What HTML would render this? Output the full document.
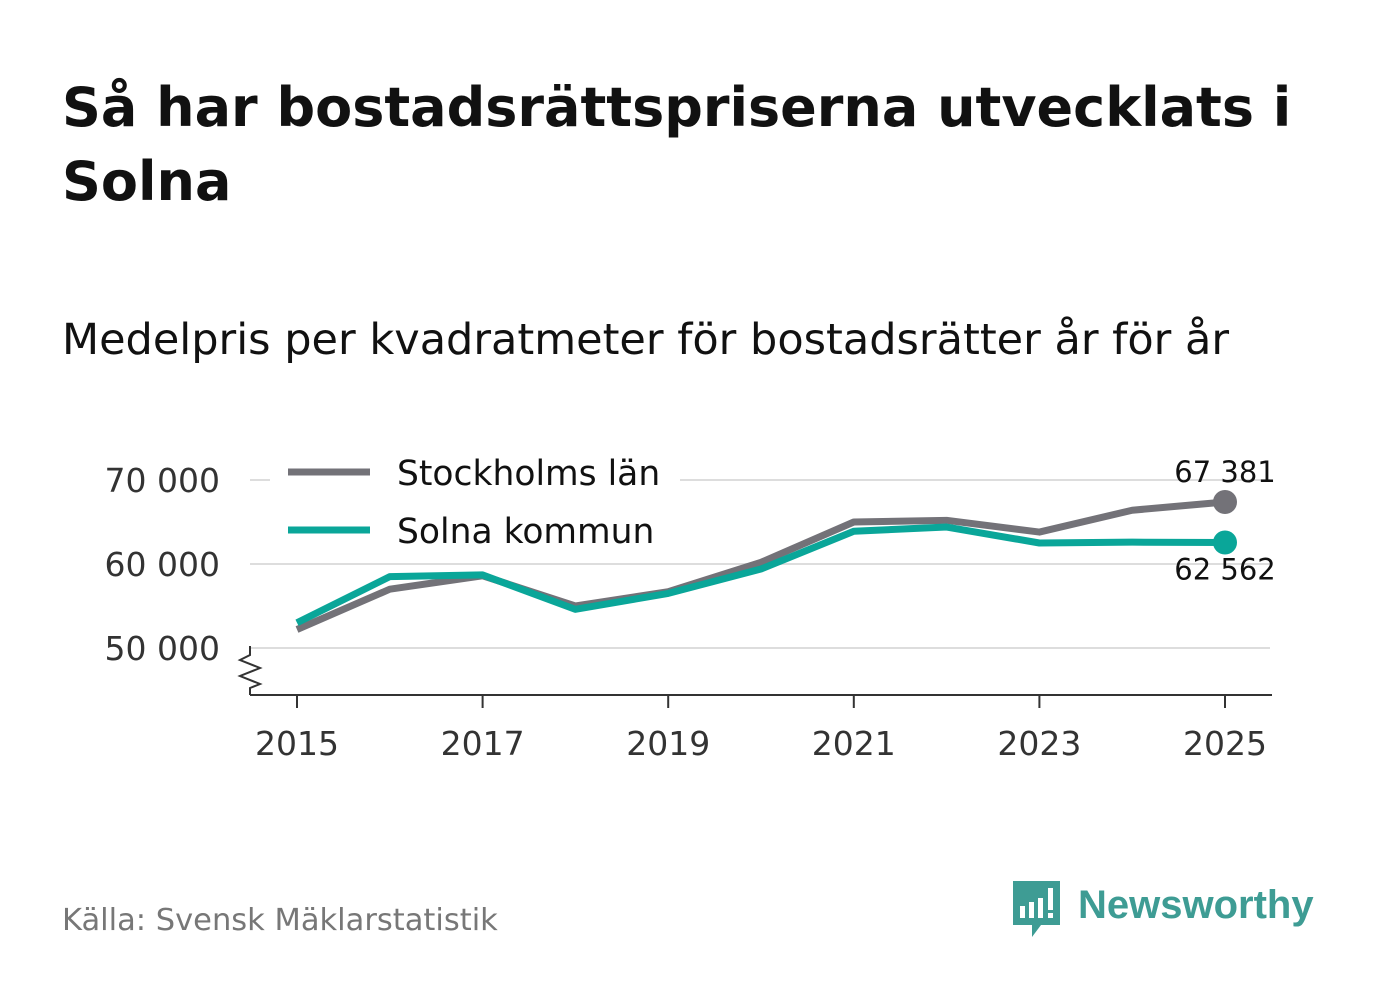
<!DOCTYPE html>
<html><head><meta charset="utf-8"><style>
body{margin:0;background:#fff;width:1382px;height:999px;overflow:hidden;font-family:"DejaVu Sans","Liberation Sans",sans-serif}
</style></head><body>
<svg width="1382" height="999" style="position:absolute;left:0;top:0" id="c" font-family="DejaVu Sans, Liberation Sans, sans-serif">
<text x="62" y="126" font-size="54" font-weight="bold" fill="#111"><tspan x="62" y="126">Så har bostadsrättspriserna utvecklats i</tspan><tspan x="62" y="200">Solna</tspan></text>
<text x="62" y="354" font-size="43" fill="#111">Medelpris per kvadratmeter för bostadsrätter år för år</text>
<text x="62" y="930" font-size="30.5" fill="#777">Källa: Svensk Mäklarstatistik</text>
<g>
<path d="M1013 881 h47 v44 h-19 l-9 12 v-12 h-19 z" fill="#3e9c94"/>
<rect x="1020" y="906" width="5" height="12" fill="#fff"/><rect x="1029" y="902" width="5" height="16" fill="#fff"/><rect x="1038" y="898" width="5" height="20" fill="#fff"/><rect x="1048" y="888" width="5" height="22" fill="#fff"/><rect x="1048" y="913" width="5" height="5" fill="#fff"/>
<text x="1078" y="918" font-size="40" font-weight="bold" fill="#3e9c94" font-family="Liberation Sans, sans-serif">Newsworthy</text>
</g>
</svg>
<script>
const years=[2015,2016,2017,2018,2019,2020,2021,2022,2023,2024,2025];
const stockholm=[52200,57000,58600,55000,56700,60200,65000,65200,63800,66400,67381];
const solna=[53000,58500,58700,54600,56500,59400,63900,64400,62500,62600,62562];
const yTicks=[50000,60000,70000];
const xTicks=[2015,2017,2019,2021,2023,2025];
const ns="http://www.w3.org/2000/svg",svg=document.getElementById('c');
const X=v=>297+(v-2015)*92.8, Y=v=>648-(v-50000)*0.0084;
function mk(t,a){const e=document.createElementNS(ns,t);for(const k in a)e.setAttribute(k,a[k]);svg.appendChild(e);return e;}
const fmt=v=>String(v).replace(/\B(?=(\d{3})+$)/g,' ');
yTicks.forEach(v=>{
 const l=mk('line',{x1:250,x2:1270,y1:Y(v),y2:Y(v),stroke:'#ddd','stroke-width':2});
 
 
 const t=mk('text',{x:220,y:Y(v)+12,'text-anchor':'end','font-size':33,fill:'#333'});t.textContent=fmt(v);
 
 
});
const ax=mk('line',{x1:250,x2:1272,y1:695,y2:695,stroke:'#333','stroke-width':2});


const br=mk('path',{d:'M250 646 L250 655 L240 660 L260 668 L240 676 L260 684 L250 688 L250 695',fill:'none',stroke:'#333','stroke-width':2});


xTicks.forEach(v=>{
 const l=mk('line',{x1:X(v),x2:X(v),y1:695,y2:708,stroke:'#333','stroke-width':2});
 
 
 const t=mk('text',{x:X(v),y:755,'text-anchor':'middle','font-size':33,fill:'#333'});t.textContent=v;
 
 
});
const lg=mk('rect',{x:270,y:445,width:410,height:110,fill:'#fff'});


function series(d,c,name){
 const p=mk('polyline',{points:d.map((v,i)=>X(years[i])+','+Y(v)).join(' '),fill:'none',stroke:c,'stroke-width':7,'stroke-linejoin':'round'});
 
 
 const n=d.length-1;
 const dot=mk('circle',{cx:X(years[n]),cy:Y(d[n]),r:12,fill:c});
 
 
}
series(stockholm,'#737278','stockholm');
series(solna,'#0aa699','solna');
const l1=mk('text',{x:1225,y:Y(stockholm[10])-20,'text-anchor':'middle','font-size':29,fill:'#111'});l1.textContent=fmt(stockholm[10]);


const l2=mk('text',{x:1225,y:Y(solna[10])+37,'text-anchor':'middle','font-size':29,fill:'#111'});l2.textContent=fmt(solna[10]);


[['Stockholms län','#737278',472],['Solna kommun','#0aa699',530]].forEach(([n,c,y])=>{
 const l=mk('line',{x1:288,x2:370,y1:y,y2:y,stroke:c,'stroke-width':7});
 
 
 const t=mk('text',{x:397,y:y+13,'font-size':34.5,fill:'#111'});t.textContent=n;
 
 
});
</script>
</body></html>
